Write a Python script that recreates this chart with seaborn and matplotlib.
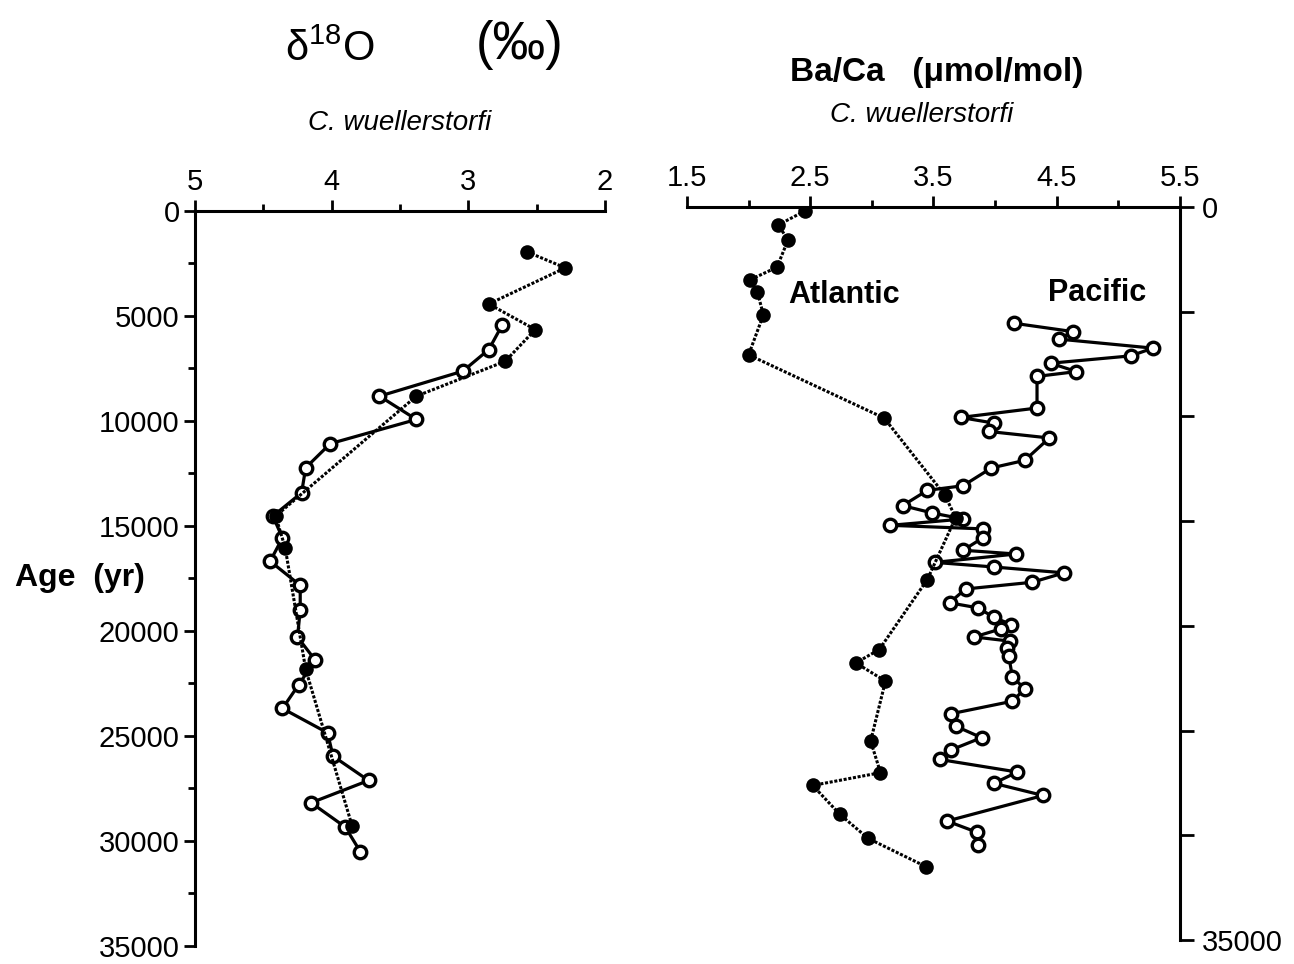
import numpy as np
import matplotlib
matplotlib.use("Agg")
import matplotlib.pyplot as plt
import seaborn as sns
from matplotlib.ticker import FixedLocator

# d18O, C. wuellerstorfi (left panel)
d18o_filled_age = [1950, 2710, 4430, 5650, 7160, 8820, 14530, 16040, 21830, 29290]
d18o_filled_val = [2.57, 2.29, 2.85, 2.51, 2.73, 3.38, 4.41, 4.34, 4.19, 3.85]

d18o_open_age = [5410, 6600, 7630, 8820, 9930, 11080, 12230, 13420, 14530, 15570,
                 16680, 17830, 19020, 20290, 21390, 22550, 23690, 24850, 25960,
                 27120, 28180, 29340, 30510]
d18o_open_val = [2.75, 2.85, 3.04, 3.65, 3.38, 4.01, 4.19, 4.22, 4.43, 4.36,
                 4.45, 4.23, 4.23, 4.25, 4.12, 4.24, 4.36, 4.03, 3.99,
                 3.73, 4.15, 3.90, 3.79]

# Ba/Ca (right panel)
atl_age = [180, 860, 1570, 2880, 3480, 4040, 5150, 7060, 10080, 13740, 14830,
           17790, 21130, 21770, 22640, 25500, 27010, 27620, 29000, 30150, 31500]
atl_val = [2.46, 2.24, 2.32, 2.23, 2.01, 2.07, 2.12, 2.00, 3.10, 3.59, 3.68,
           3.45, 3.06, 2.87, 3.11, 2.99, 3.07, 2.52, 2.74, 2.97, 3.44]

pac_age = [5550, 5950, 6310, 6740, 7110, 7460, 7860, 8090, 9600, 10050,
           10320, 10720, 11030, 12100, 12460, 13310, 13530, 14260, 14610, 14900,
           15200, 15370, 15800, 16390, 16570, 16970, 17190, 17470, 17920, 18240,
           18900, 19140, 19590, 19940, 20140, 20530, 20730, 21050, 21420, 22430,
           23010, 23600, 24200, 24790, 25340, 25930, 26380, 26980, 27520, 28100,
           29320, 29850, 30480]
pac_val = [4.15, 4.63, 4.52, 5.28, 5.10, 4.45, 4.66, 4.34, 4.34, 3.72,
           3.99, 3.95, 4.44, 4.24, 3.97, 3.74, 3.45, 3.25, 3.49, 3.74,
           3.15, 3.90, 3.90, 3.74, 4.17, 3.51, 3.99, 4.56, 4.30, 3.76,
           3.63, 3.86, 3.99, 4.13, 4.05, 3.83, 4.12, 4.10, 4.11, 4.14,
           4.24, 4.14, 3.64, 3.68, 3.89, 3.64, 3.55, 4.18, 3.99, 4.39,
           3.61, 3.85, 3.86]

age_ticks = [0, 5000, 10000, 15000, 20000, 25000, 30000, 35000]
d18o_ticks = [5, 4, 3, 2]
baca_ticks = [1.5, 2.5, 3.5, 4.5, 5.5]

sns.set_style("ticks")
plt.rcParams["font.family"] = ["Liberation Sans", "DejaVu Sans"]
plt.rcParams["mathtext.default"] = "regular"
for key in ("text.color", "axes.labelcolor", "xtick.color", "ytick.color", "axes.edgecolor"):
    plt.rcParams[key] = "black"

filled_kw = dict(color="black", lw=2.2, linestyle=(0, (1.0, 0.55)), marker="o",
                 markersize=10.5, markerfacecolor="black", markeredgecolor="black",
                 markeredgewidth=0)
open_kw = dict(color="black", lw=2.3, linestyle="-", marker="o",
               markersize=9, markerfacecolor="white", markeredgecolor="black",
               markeredgewidth=2.4)

fig = plt.figure(figsize=(12.94, 9.64), dpi=100)
ax1 = fig.add_axes([0.1507, 0.0187, 0.3168, 0.7625])
ax2 = fig.add_axes([0.5309, 0.0249, 0.381, 0.7604])

# left panel
sns.lineplot(x=d18o_open_val, y=d18o_open_age, sort=False, estimator=None,
             ax=ax1, zorder=3, **open_kw)
sns.lineplot(x=d18o_filled_val, y=d18o_filled_age, sort=False, estimator=None,
             ax=ax1, zorder=4, **filled_kw)

ax1.set_xlim(5, 2)
ax1.set_ylim(35000, 0)
ax1.xaxis.tick_top()
ax1.spines["right"].set_visible(False)
ax1.spines["bottom"].set_visible(False)
ax1.set_xticks(d18o_ticks)
ax1.set_xticklabels([str(t) for t in d18o_ticks])
ax1.xaxis.set_minor_locator(FixedLocator([4.5, 3.5, 2.5]))
ax1.set_yticks(age_ticks)
ax1.set_yticklabels([str(t) for t in age_ticks])
ax1.yaxis.set_minor_locator(FixedLocator([2500, 7500, 12500, 17500, 22500, 27500, 32500]))
ax1.set_xlabel("")
ax1.set_ylabel("Age  (yr)", fontsize=23, fontweight="bold", rotation=0,
               ha="center", va="center")
ax1.yaxis.set_label_coords(-0.28, 0.5)

# right panel
sns.lineplot(x=pac_val, y=pac_age, sort=False, estimator=None,
             ax=ax2, zorder=3, **open_kw)
sns.lineplot(x=atl_val, y=atl_age, sort=False, estimator=None,
             ax=ax2, zorder=4, **filled_kw)

ax2.set_xlim(1.5, 5.5)
ax2.set_ylim(35000, 0)
ax2.xaxis.tick_top()
ax2.yaxis.tick_right()
ax2.spines["left"].set_visible(False)
ax2.spines["bottom"].set_visible(False)
ax2.set_xticks(baca_ticks)
ax2.set_xticklabels([f"{t:.1f}" for t in baca_ticks])
ax2.xaxis.set_minor_locator(FixedLocator([2.0, 3.0, 4.0, 5.0]))
ax2.set_yticks(age_ticks)
ax2.set_yticklabels(["0", "", "", "", "", "", "", "35000"])
ax2.set_xlabel("")
ax2.set_ylabel("")

ax2.text(2.32, 4200, "Atlantic", fontsize=22, fontweight="bold", va="center", ha="left")
ax2.text(4.43, 4100, "Pacific", fontsize=22, fontweight="bold", va="center", ha="left")

for ax in (ax1, ax2):
    for s in ax.spines.values():
        s.set_linewidth(2.2)
    ax.tick_params(which="major", direction="out", length=8, width=2,
                   labelsize=21, pad=3)
    ax.tick_params(which="minor", direction="out", length=5, width=2)
    ax.grid(False)

ax2.tick_params(axis="y", which="major", length=10, pad=6)

# titles
fig.text(330 / 1294, 1 - 50 / 964, r"δ$^{18}$O", fontsize=30, ha="center", va="center")
fig.text(520 / 1294, 1 - 45 / 964, "(‰)", fontsize=38, ha="center", va="center")
fig.text(400 / 1294, 1 - 123 / 964, "C. wuellerstorfi", fontsize=20, style="italic",
         ha="center", va="center")
fig.text(937 / 1294, 1 - 72 / 964, "Ba/Ca   (μmol/mol)", fontsize=24, fontweight="bold",
         ha="center", va="center")
fig.text(922 / 1294, 1 - 115 / 964, "C. wuellerstorfi", fontsize=20, style="italic",
         ha="center", va="center")

fig.savefig("out.png", dpi=100, facecolor="white")
